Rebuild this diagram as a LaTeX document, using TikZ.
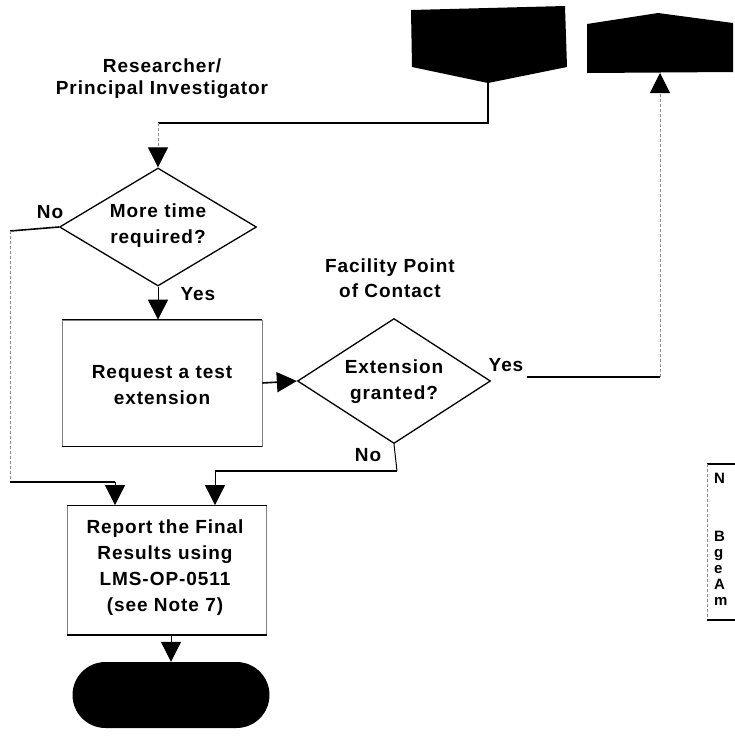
\documentclass[tikz,border=0pt]{standalone}
\usepackage{fontspec}
\newfontfamily\lblfont[LetterSpace=5]{Liberation Sans}
\usetikzlibrary{arrows.meta,shapes.geometric}
\tikzset{
  txt/.style={font=\lblfont\bfseries\fontsize{19}{26}\selectfont, align=center, inner sep=0pt},
  hl/.style={line width=1.6pt, black},
  vl/.style={line width=0.8pt, black!45, dash pattern=on 3pt off 2pt},
  tip/.style={-{Triangle[length=20pt,width=20pt,color=black]}},
  decision/.style={diamond, draw, line width=1.3pt, inner sep=0pt, aspect=1.6},
  stepbox/.style={rectangle, draw=black!50, line width=0.8pt, inner sep=0pt},
  terminal/.style={rectangle, fill=black, rounded corners=33pt, inner sep=0pt},
  notetxt/.style={txt, font=\lblfont\bfseries\fontsize{15}{16}\selectfont, align=left, anchor=north west}
}
\begin{document}
\begin{tikzpicture}[x=1pt,y=-1pt]
\useasboundingbox (0,0) rectangle (735,740);
\fill[white] (0,0) rectangle (735,740);

% off-page connectors
\fill (411,10) -- (565,6) -- (567,67) -- (488,83) -- (412,67) -- cycle;
\coordinate (p1) at (488,83);
\fill (587,24) -- (658,13) -- (733,23) -- (733,72) -- (587,73) -- cycle;
\coordinate (p2) at (660,73);

% swimlane headings
\node[txt, font=\lblfont\bfseries\fontsize{19}{22}\selectfont] (hpi) at (162,79) {Researcher/\\Principal Investigator};
\node[txt, font=\lblfont\bfseries\fontsize{19}{25}\selectfont] (hfc) at (390,278) {Facility Point\\of Contact};

% process shapes
\node[decision, minimum width=197pt, minimum height=118pt] (d1) at (158,227) {};
\node[txt] at (158,226) {More time\\required?};
\node[stepbox, minimum width=200pt, minimum height=126pt] (r1) at (162,383) {};
\node[txt] at (162,385) {Request a test\\extension};
\node[decision, minimum width=193pt, minimum height=125pt] (d2) at (394,381) {};
\node[txt] at (394,382) {Extension\\granted?};
\node[stepbox, minimum width=199pt, minimum height=129pt] (r2) at (167,570) {};
\node[txt] at (165,568) {Report the Final\\Results using\\LMS-OP-0511\\(see Note 7)};
\node[terminal, minimum width=197pt, minimum height=66pt] (t) at (171,695) {};

% solid top and bottom edges of the boxes
\draw[line width=1.2pt] (r1.north west) -- (r1.north east) (r1.south west) -- (r1.south east);
\draw[line width=1.2pt] (r2.north west) -- (r2.north east) (r2.south west) -- (r2.south east);

% branch labels
\node[txt] (lno1) at (50,212) {No};
\node[txt] (lyes1) at (198,294) {Yes};
\node[txt] (lyes2) at (506,365) {Yes};
\node[txt] (lno2) at (368,455) {No};

% connectors
\coordinate (j1) at (158,123);
\draw[line width=1.2pt] (p1) |- (j1);
\draw[vl, tip] (j1) -- (d1.north);

\coordinate (n1) at (10,231);
\coordinate (n2) at (10,482);
\coordinate (n3) at (115,482);
\draw[hl] (d1.west) -- (n1);
\draw[vl] (n1) -- (n2);
\draw[hl] (n2) -- (n3);
\draw[line width=0.8pt, tip] (n3) -- (n3 |- r2.north);

\draw[line width=1pt, tip] (d1.south) -- (d1.south |- r1.north);
\draw[hl, tip] (r1.east) -- (d2.west);

\coordinate (y1) at (527,377);
\coordinate (y2) at (660,377);
\draw[hl] (y1) -- (y2);
\draw[vl, tip] (y2) -- (p2);

\coordinate (m1) at (397,471);
\coordinate (m2) at (215,471);
\draw[line width=1pt] (d2.south) -- (m1);
\draw[hl] (m1) -- (m2);
\draw[line width=0.8pt, tip] (m2) -- (m2 |- r2.north);

\draw[line width=1pt, tip] (r2.south -| t.north) -- (t.north);

% note panel at the right edge
\coordinate (b1) at (707,464);
\coordinate (b2) at (707,620);
\draw[line width=1.2pt] (b1) -- (735,464);
\draw[vl] (b1) -- (b2);
\draw[line width=1.2pt] (b2) -- (735,620);
\node[notetxt] (nN) at (714,473) {N};
\node[notetxt] (nB) at (714,531) {B\\g\\e\\A\\m};
\end{tikzpicture}
\end{document}
